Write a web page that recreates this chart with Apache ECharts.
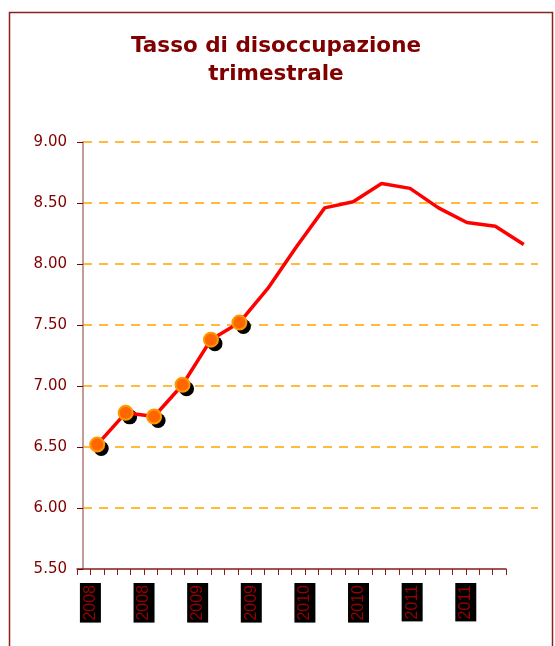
<!DOCTYPE html>
<html>
<head>
<meta charset="utf-8">
<script src="https://cdn.jsdelivr.net/npm/echarts@6/dist/echarts.min.js"></script>
<style>
  html, body { margin: 0; padding: 0; background: #fff; }
  #chart { width: 555px; height: 646px; }
</style>
</head>
<body>
<div id="chart"></div>
<script>
// quarterly data, 2008 Q1 .. 2011 Q4
const quarters = ['2008 T1', '2008 T2', '2008 T3', '2008 T4',
                  '2009 T1', '2009 T2', '2009 T3', '2009 T4',
                  '2010 T1', '2010 T2', '2010 T3', '2010 T4',
                  '2011 T1', '2011 T2', '2011 T3', '2011 T4'];
const rates = [6.52, 6.78, 6.75, 7.01, 7.38, 7.52, 7.80, 8.14,
               8.46, 8.51, 8.66, 8.62, 8.46, 8.34, 8.31, 8.16];
// only the first points carry a marker in the original
const markedCount = 6;

// secondary axis: 32 slots, year labels on every 4th tick
const yearLabels = ['2008', '2008', '2009', '2009', '2010', '2010', '2011', '2011'];
const tickSlots = [];
for (let i = 0; i <= 32; i++) {
    tickSlots.push(i % 4 === 1 ? yearLabels[(i - 1) / 4] : '');
}

const darkRed = '#800000';
const font = 'DejaVu Sans, Verdana, sans-serif';
const markedData = rates.map(function (v, i) {
    return i < markedCount ? v : '-';
});

const chart = echarts.init(document.getElementById('chart'));
chart.setOption({
    animation: false,
    title: {
        text: 'Tasso di disoccupazione\ntrimestrale',
        left: 271,
        textAlign: 'center',
        top: 27,
        textStyle: {
            fontFamily: font,
            fontSize: 21.5,
            fontWeight: 'bold',
            color: darkRed,
            lineHeight: 28
        }
    },
    graphic: [{
        type: 'rect',
        shape: { x: 9.5, y: 12.5, width: 543, height: 700 },
        style: { fill: 'none', stroke: '#8b2020', lineWidth: 1.5 },
        silent: true
    }],
    grid: [
        { left: 83, right: 17, top: 142, bottom: 77 },
        { left: 77, right: 49, top: 142, bottom: 77 }
    ],
    xAxis: [
        {
            type: 'category',
            gridIndex: 0,
            data: quarters,
            axisLine: { show: false },
            axisTick: { show: false },
            axisLabel: { show: false }
        },
        {
            type: 'category',
            gridIndex: 1,
            data: tickSlots,
            boundaryGap: false,
            axisLine: { lineStyle: { color: '#8b1a1a', width: 1.5 } },
            axisTick: {
                interval: 0,
                length: 6,
                lineStyle: { color: '#8b1a1a', width: 1 }
            },
            axisLabel: {
                interval: function (i) { return i % 4 === 1; },
                rotate: 90,
                margin: 14,
                fontFamily: 'Liberation Sans, Arial, sans-serif',
                fontSize: 16,
                color: '#990000',
                backgroundColor: '#000',
                lineHeight: 17,
                padding: [2, 2, 2, 2]
            },
            splitLine: { show: false }
        }
    ],
    yAxis: [
        {
            type: 'value',
            gridIndex: 0,
            min: 5.5,
            max: 9,
            interval: 0.5,
            axisLine: { show: true, lineStyle: { color: '#b07878', width: 1.5 } },
            axisTick: { show: true, length: 6, lineStyle: { color: darkRed } },
            axisLabel: {
                margin: 16,
                fontFamily: font,
                fontSize: 15,
                color: darkRed,
                formatter: function (v) { return v.toFixed(2); }
            },
            splitLine: {
                show: true,
                showMinLine: false,
                lineStyle: { color: '#ffa500', type: [9, 7], width: 1.5 }
            }
        },
        {
            type: 'value',
            gridIndex: 1,
            min: 5.5,
            max: 9,
            interval: 0.5,
            show: false
        }
    ],
    series: [
        {
            // black drop shadow under each marker
            type: 'line',
            xAxisIndex: 0,
            yAxisIndex: 0,
            data: markedData,
            symbol: 'circle',
            symbolSize: 15,
            symbolOffset: [4, 4],
            lineStyle: { width: 0, opacity: 0 },
            itemStyle: { color: '#000', borderWidth: 0 },
            z: 2
        },
        {
            type: 'line',
            xAxisIndex: 0,
            yAxisIndex: 0,
            data: rates,
            symbol: 'none',
            lineStyle: { color: '#ff0000', width: 3.5 },
            z: 3
        },
        {
            type: 'line',
            xAxisIndex: 0,
            yAxisIndex: 0,
            data: markedData,
            symbol: 'circle',
            symbolSize: 14,
            lineStyle: { width: 0, opacity: 0 },
            itemStyle: { color: '#ff6600', borderColor: '#ff9900', borderWidth: 2 },
            z: 4
        }
    ]
});
</script>
</body>
</html>
